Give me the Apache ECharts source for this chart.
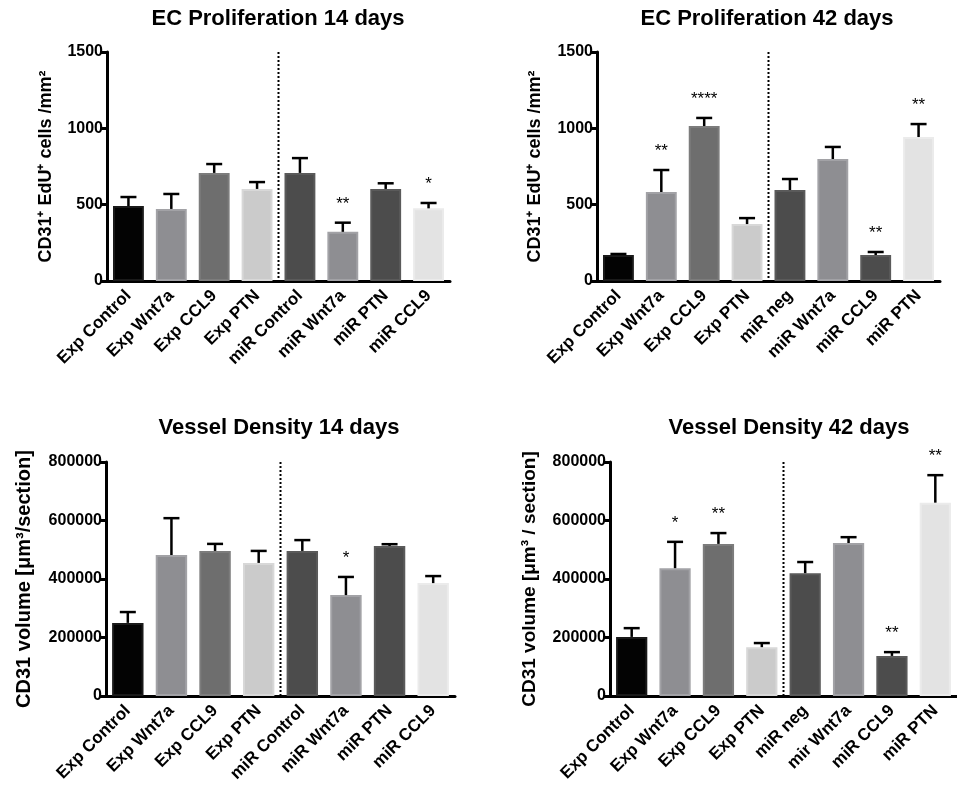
<!DOCTYPE html>
<html lang="en">
<head>
<meta charset="UTF-8">
<title>EC Proliferation / Vessel Density</title>
<script src="https://cdn.jsdelivr.net/npm/echarts@6/dist/echarts.min.js"></script>
<style>
    body { margin: 0; background: #fff; }
    #chart { width: 957px; height: 793px; }
</style>
</head>
<body>
<div id="chart"></div>
<script>
    // categories
    var cats14p = ['Exp Control', 'Exp Wnt7a', 'Exp CCL9', 'Exp PTN', 'miR Control', 'miR Wnt7a', 'miR PTN', 'miR CCL9'];
    var cats42p = ['Exp Control', 'Exp Wnt7a', 'Exp CCL9', 'Exp PTN', 'miR neg', 'miR Wnt7a', 'miR CCL9', 'miR PTN'];
    var cats14v = ['Exp Control', 'Exp Wnt7a', 'Exp CCL9', 'Exp PTN', 'miR Control', 'miR Wnt7a', 'miR PTN', 'miR CCL9'];
    var cats42v = ['Exp Control', 'Exp Wnt7a', 'Exp CCL9', 'Exp PTN', 'miR neg', 'mir Wnt7a', 'miR CCL9', 'miR PTN'];

    // means and SEM
    var prolif14 = [491, 472, 708, 603, 708, 322, 603, 476];
    var prolif14Err = [59, 98, 58, 45, 97, 60, 37, 35];
    var prolif42 = [170, 583, 1015, 373, 596, 799, 170, 943];
    var prolif42Err = [7, 144, 53, 39, 72, 79, 20, 85];
    var vessel14 = [250000, 482000, 496000, 455000, 496000, 345000, 513000, 386000];
    var vessel14Err = [37000, 126000, 24000, 41000, 37000, 62000, 6000, 24000];
    var vessel42 = [202000, 437000, 520000, 167000, 420000, 523000, 137000, 661000];
    var vessel42Err = [30000, 90000, 37000, 14000, 38000, 20000, 13000, 94000];

    // significance marks
    var sig14p = ['', '', '', '', '', '**', '', '*'];
    var sig42p = ['', '**', '****', '', '', '', '**', '**'];
    var sig14v = ['', '', '', '', '', '*', '', ''];
    var sig42v = ['', '*', '**', '', '', '', '**', '**'];

    // y axis ticks: min, max, step
    var prolifTicks = [0, 1500, 500];
    var vesselTicks = [0, 800000, 200000];

    var fills = ['#030303', '#8e8e92', '#6e6e6e', '#cbcbcb', '#4c4c4c', '#8e8e92', '#4c4c4c', '#e3e3e3'];
    var edges = ['#1a1a1a', '#a2a2a6', '#7c7c7c', '#d8d8d8', '#5a5a5a', '#a2a2a6', '#5a5a5a', '#ebebeb'];

    var FONT = 'Arial, "Liberation Sans", Helvetica, sans-serif';

    var panels = [
        { title: 'EC Proliferation 14 days', cats: cats14p, vals: prolif14, errs: prolif14Err, sig: sig14p, ticks: prolifTicks,
          yname: 'CD31\u207A EdU\u207A cells /mm\u00B2', nameSize: 18, gap: 52,
          grid: { left: 107, top: 52, width: 343, height: 229 }, tx: 278, ty: 8 },
        { title: 'EC Proliferation 42 days', cats: cats42p, vals: prolif42, errs: prolif42Err, sig: sig42p, ticks: prolifTicks,
          yname: 'CD31\u207A EdU\u207A cells /mm\u00B2', nameSize: 18, gap: 53,
          grid: { left: 597, top: 52, width: 343, height: 229 }, tx: 767, ty: 8 },
        { title: 'Vessel Density 14 days', cats: cats14v, vals: vessel14, errs: vessel14Err, sig: sig14v, ticks: vesselTicks,
          yname: 'CD31 volume [\u03BCm\u00B3/section]', nameSize: 20, gap: 72,
          grid: { left: 106, top: 462, width: 349, height: 234 }, tx: 279, ty: 417 },
        { title: 'Vessel Density 42 days', cats: cats42v, vals: vessel42, errs: vessel42Err, sig: sig42v, ticks: vesselTicks,
          yname: 'CD31 volume [\u03BCm\u00B3 / section]', nameSize: 19, gap: 71,
          grid: { left: 610, top: 462, width: 352, height: 234 }, tx: 789, ty: 417 }
    ];

    var chart = echarts.init(document.getElementById('chart'));
    var option = { animation: false, grid: [], xAxis: [], yAxis: [], series: [], graphic: [] };

    panels.forEach(function (p, k) {
        option.grid.push(p.grid);
        option.graphic.push({
            type: 'text', x: p.tx, y: p.ty,
            style: { text: p.title, font: 'bold 22px ' + FONT, fill: '#000', textAlign: 'center' }
        });
        option.xAxis.push({
            type: 'category', gridIndex: k, data: p.cats,
            axisLine: { lineStyle: { color: '#000', width: 3 } },
            axisTick: { alignWithLabel: true, length: 8, lineStyle: { color: '#000', width: 3 } },
            axisLabel: { interval: 0, rotate: 45, margin: 12, color: '#000', fontWeight: 'bold', fontSize: 17, fontFamily: FONT },
            splitLine: { show: false }
        });
        option.yAxis.push({
            type: 'value', gridIndex: k, min: p.ticks[0], max: p.ticks[1], interval: p.ticks[2],
            name: p.yname, nameLocation: 'middle', nameGap: p.gap,
            nameTextStyle: { color: '#000', fontWeight: 'bold', fontSize: p.nameSize, fontFamily: FONT },
            axisLine: { show: true, lineStyle: { color: '#000', width: 3 } },
            axisTick: { show: true, length: 7, lineStyle: { color: '#000', width: 3 } },
            axisLabel: {
                margin: 4, color: '#000', fontWeight: 'bold', fontSize: 16, fontFamily: FONT,
                formatter: function (v) { return String(v); }
            },
            splitLine: { show: false }
        });

        // bars
        option.series.push({
            type: 'bar', xAxisIndex: k, yAxisIndex: k, barCategoryGap: '28%',
            data: p.vals.map(function (v, i) {
                return { value: v, itemStyle: { color: fills[i], borderColor: edges[i], borderWidth: 2 } };
            }),
            z: 2
        });

        // separator between Exp and miR groups
        var ymax = p.ticks[1];
        option.series.push({
            type: 'custom', xAxisIndex: k, yAxisIndex: k, clip: false, z: 3,
            data: [[0, 0]],
            renderItem: function (params, api) {
                var a = api.coord([3, 0]), b = api.coord([4, 0]);
                var top = api.coord([0, ymax])[1];
                var x = (a[0] + b[0]) / 2;
                return {
                    type: 'line', shape: { x1: x, y1: top, x2: x, y2: a[1] },
                    style: { stroke: '#000', lineWidth: 2, lineDash: [2, 2] }
                };
            }
        });

        // error bars (upper only)
        option.series.push({
            type: 'custom', xAxisIndex: k, yAxisIndex: k, clip: false, z: 4,
            data: p.vals.map(function (v, i) { return [i, v, p.errs[i]]; }),
            renderItem: function (params, api) {
                var p0 = api.coord([api.value(0), api.value(1)]);
                var p1 = api.coord([api.value(0), api.value(1) + api.value(2)]);
                var st = { stroke: '#000', lineWidth: 2.5 };
                return {
                    type: 'group', children: [
                        { type: 'line', shape: { x1: p0[0], y1: p0[1], x2: p1[0], y2: p1[1] }, style: st },
                        { type: 'line', shape: { x1: p1[0] - 8, y1: p1[1], x2: p1[0] + 8, y2: p1[1] }, style: st }
                    ]
                };
            }
        });

        // significance stars
        var sig = p.sig;
        option.series.push({
            type: 'custom', xAxisIndex: k, yAxisIndex: k, clip: false, z: 5,
            data: p.vals.map(function (v, i) { return [i, v + p.errs[i]]; }),
            renderItem: function (params, api) {
                var s = sig[params.dataIndex];
                if (!s) return;
                var pt = api.coord([api.value(0), api.value(1)]);
                return {
                    type: 'text', x: pt[0], y: pt[1] - 10,
                    style: { text: s, font: '17px ' + FONT, fill: '#000', textAlign: 'center', textVerticalAlign: 'bottom' }
                };
            }
        });
    });

    chart.setOption(option);
</script>
</body>
</html>
